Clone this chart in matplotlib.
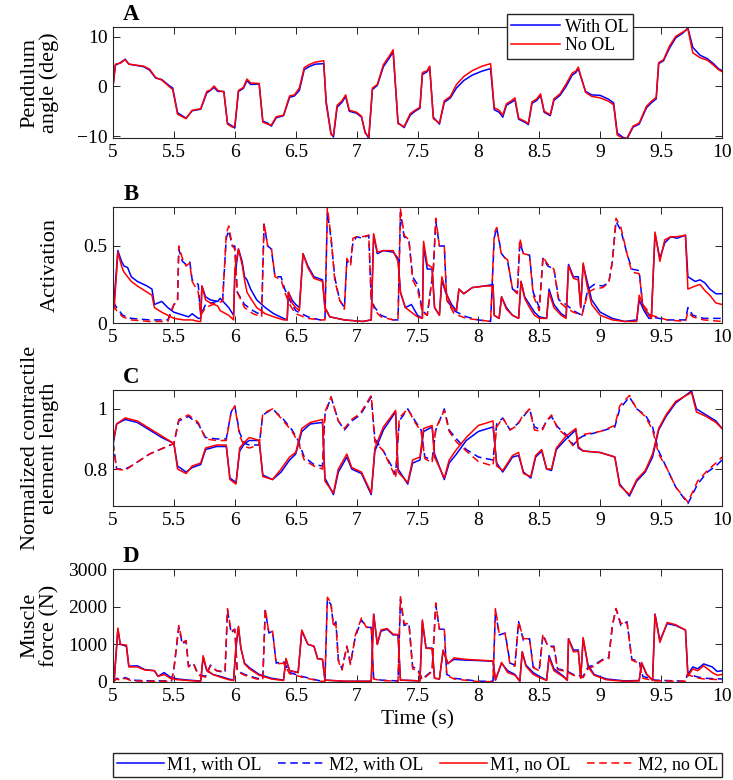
import matplotlib
matplotlib.use("Agg")
import matplotlib.pyplot as plt
import numpy as np

plt.rcParams['font.family'] = ['Liberation Serif', 'DejaVu Serif']
plt.rcParams['mathtext.fontset'] = 'stix'

# ---------------- A: pendulum angle (deg) ----------------
a_t = [5.00, 5.02, 5.06, 5.10, 5.13, 5.25, 5.30, 5.35, 5.40, 5.46, 5.49, 5.53, 5.60, 5.65, 5.72,
       5.77, 5.80, 5.83, 5.86, 5.91, 5.94, 5.98, 6.00, 6.03, 6.07, 6.10, 6.13, 6.20, 6.23, 6.27,
       6.30, 6.34, 6.40, 6.45, 6.49, 6.53, 6.57, 6.61, 6.66, 6.73, 6.75, 6.79, 6.81, 6.84, 6.88,
       6.91, 6.94, 7.00, 7.04, 7.07, 7.10, 7.13, 7.17, 7.22, 7.27, 7.30, 7.34, 7.39, 7.44, 7.48,
       7.52, 7.54, 7.58, 7.60, 7.63, 7.68, 7.72, 7.77, 7.82, 7.88, 7.95, 8.03, 8.10, 8.13, 8.17,
       8.20, 8.23, 8.27, 8.30, 8.33, 8.38, 8.41, 8.44, 8.48, 8.51, 8.54, 8.59, 8.62, 8.67, 8.72,
       8.77, 8.80, 8.82, 8.84, 8.88, 8.93, 9.00, 9.07, 9.11, 9.14, 9.19, 9.22, 9.27, 9.32, 9.38,
       9.42, 9.46, 9.48, 9.52, 9.57, 9.62, 9.68, 9.72, 9.76, 9.82, 9.88, 9.93, 9.97, 10.00]
a_with = [0, 4.3, 4.8, 5.5, 4.5, 4.0, 3.3, 1.7, 1.4, 0.2, -0.3, -5.3, -6.4, -4.9, -4.6,
          -1.3, -0.8, -0.2, -1.0, -1.0, -7.4, -8.0, -8.4, -1.0, -0.4, 1.2, 0.4, 0.5, -7.0, -7.4,
          -8.0, -6.3, -5.9, -2.2, -1.9, -0.8, 3.4, 4.0, 4.5, 4.6, -3.0, -9.5, -10.2, -4.2, -3.2,
          -2.0, -5.0, -5.4, -6.2, -9.2, -10.5, -0.6, 0.2, 4.0, 5.8, 7.0, -7.3, -8.3, -5.8, -5.0,
          -4.4, 2.4, 3.0, 3.9, -6.2, -7.6, -3.2, -2.3, -0.3, 1.2, 2.3, 3.1, 3.6, -4.7, -5.2,
          -6.2, -3.8, -3.2, -2.7, -6.6, -7.2, -7.7, -3.4, -2.8, -1.8, -5.2, -5.9, -2.8, -1.8, 0.0,
          2.3, 2.8, 3.6, 2.0, -1.0, -1.7, -1.8, -2.6, -3.3, -9.4, -10.3, -10.6, -8.2, -7.6, -4.3,
          -3.3, -2.5, 4.6, 5.2, 7.8, 9.8, 10.8, 11.8, 7.9, 6.3, 5.6, 4.6, 3.6, 3.2]
a_no = [0, 4.5, 4.7, 5.4, 4.5, 4.1, 3.5, 1.8, 1.3, 0.0, -0.6, -5.6, -6.5, -4.8, -4.5,
        -1.0, -0.7, 0.1, -0.8, -1.1, -7.6, -8.2, -8.0, -0.8, -0.2, 1.5, 0.7, 0.6, -7.2, -7.6,
        -7.8, -6.1, -5.8, -1.9, -1.7, -0.3, 3.8, 4.4, 4.9, 5.2, -3.5, -9.7, -9.8, -3.8, -2.9,
        -1.7, -4.8, -5.2, -6.0, -9.4, -10.2, -0.3, 0.4, 4.4, 6.2, 7.4, -7.5, -8.1, -5.5, -4.8,
        -4.2, 2.8, 3.2, 4.1, -6.5, -7.4, -2.9, -2.0, 0.4, 2.0, 3.2, 4.1, 4.6, -4.3, -4.8,
        -5.8, -3.5, -2.9, -2.3, -6.4, -7.0, -7.5, -3.1, -2.5, -1.5, -5.0, -5.7, -2.5, -1.5, 0.5,
        2.7, 3.1, 3.9, 2.2, -1.2, -2.0, -2.3, -3.0, -3.7, -9.8, -10.5, -10.4, -8.0, -7.4, -4.0,
        -3.0, -2.2, 4.8, 5.4, 8.2, 10.1, 11.0, 11.6, 6.8, 5.8, 5.3, 4.3, 3.4, 3.0]

# ---------------- B: activation ----------------
b1_t = [5.00, 5.01, 5.04, 5.07, 5.09, 5.12, 5.15, 5.20, 5.28, 5.32, 5.34, 5.40, 5.45, 5.50, 5.58,
        5.62, 5.65, 5.70, 5.72, 5.73, 5.76, 5.80, 5.86, 5.88, 5.95, 5.99, 6.00, 6.03, 6.06, 6.08,
        6.10, 6.13, 6.18, 6.25, 6.32, 6.40, 6.43, 6.44, 6.47, 6.50, 6.53, 6.56, 6.60, 6.65, 6.72,
        6.74, 6.78, 6.90, 7.05, 7.12, 7.14, 7.17, 7.22, 7.30, 7.34, 7.36, 7.40, 7.45, 7.50, 7.54,
        7.55, 7.58, 7.62, 7.64, 7.68, 7.70, 7.73, 7.78, 7.82, 7.84, 7.88, 7.95, 8.05, 8.12, 8.13,
        8.17, 8.19, 8.23, 8.28, 8.33, 8.35, 8.38, 8.42, 8.46, 8.50, 8.56, 8.58, 8.62, 8.68, 8.72,
        8.74, 8.78, 8.82, 8.84, 8.86, 8.89, 8.93, 9.00, 9.10, 9.20, 9.30, 9.32, 9.36, 9.40, 9.42,
        9.45, 9.49, 9.53, 9.58, 9.63, 9.70, 9.72, 9.78, 9.82, 9.86, 9.90, 9.95, 10.00]
b1_with = [0.20, 0.15, 0.47, 0.40, 0.37, 0.36, 0.30, 0.27, 0.24, 0.22, 0.12, 0.14, 0.10, 0.07, 0.05,
           0.04, 0.06, 0.03, 0.03, 0.24, 0.17, 0.15, 0.14, 0.16, 0.10, 0.05, 0.30, 0.48, 0.40, 0.30,
           0.28, 0.22, 0.15, 0.10, 0.06, 0.03, 0.02, 0.20, 0.15, 0.12, 0.10, 0.45, 0.37, 0.30, 0.28,
           0.10, 0.04, 0.02, 0.01, 0.02, 0.57, 0.45, 0.47, 0.46, 0.42, 0.20, 0.10, 0.12, 0.05, 0.03,
           0.50, 0.35, 0.35, 0.10, 0.05, 0.28, 0.20, 0.12, 0.08, 0.22, 0.19, 0.23, 0.24, 0.25, 0.05,
           0.03, 0.17, 0.10, 0.05, 0.03, 0.27, 0.17, 0.12, 0.07, 0.04, 0.03, 0.22, 0.12, 0.06, 0.04,
           0.38, 0.30, 0.30, 0.10, 0.38, 0.28, 0.15, 0.07, 0.03, 0.01, 0.02, 0.15, 0.08, 0.03, 0.03,
           0.58, 0.42, 0.52, 0.56, 0.55, 0.57, 0.30, 0.27, 0.28, 0.26, 0.22, 0.19, 0.19]
b1_no = [0.07, 0.10, 0.46, 0.37, 0.33, 0.30, 0.27, 0.24, 0.20, 0.18, 0.10, 0.07, 0.05, 0.03, 0.02,
         0.02, 0.02, 0.01, 0.01, 0.24, 0.15, 0.13, 0.11, 0.08, 0.05, 0.02, 0.35, 0.48, 0.38, 0.28,
         0.20, 0.16, 0.10, 0.06, 0.04, 0.02, 0.02, 0.20, 0.13, 0.10, 0.08, 0.45, 0.36, 0.29, 0.27,
         0.10, 0.04, 0.02, 0.01, 0.02, 0.58, 0.46, 0.47, 0.47, 0.40, 0.20, 0.10, 0.07, 0.04, 0.03,
         0.53, 0.38, 0.36, 0.10, 0.05, 0.30, 0.21, 0.10, 0.08, 0.22, 0.19, 0.23, 0.24, 0.24, 0.05,
         0.03, 0.17, 0.09, 0.05, 0.03, 0.27, 0.16, 0.10, 0.05, 0.03, 0.03, 0.20, 0.10, 0.05, 0.03,
         0.37, 0.29, 0.28, 0.10, 0.39, 0.25, 0.12, 0.05, 0.02, 0.01, 0.01, 0.18, 0.10, 0.05, 0.03,
         0.59, 0.40, 0.54, 0.56, 0.56, 0.57, 0.22, 0.24, 0.25, 0.21, 0.18, 0.13, 0.12]

b2_t = [5.00, 5.03, 5.08, 5.15, 5.30, 5.45, 5.50, 5.53, 5.54, 5.57, 5.60, 5.63, 5.65, 5.70, 5.72,
        5.76, 5.85, 5.90, 5.93, 5.95, 5.98, 6.00, 6.02, 6.08, 6.15, 6.22, 6.24, 6.27, 6.30, 6.33,
        6.38, 6.41, 6.45, 6.50, 6.60, 6.70, 6.74, 6.76, 6.79, 6.82, 6.86, 6.90, 6.92, 6.95, 6.97,
        7.00, 7.05, 7.10, 7.12, 7.15, 7.20, 7.30, 7.34, 7.36, 7.39, 7.43, 7.46, 7.50, 7.54, 7.58,
        7.63, 7.65, 7.68, 7.72, 7.74, 7.80, 7.90, 8.00, 8.10, 8.13, 8.15, 8.19, 8.24, 8.28, 8.32,
        8.34, 8.37, 8.42, 8.45, 8.50, 8.53, 8.57, 8.62, 8.66, 8.72, 8.78, 8.85, 8.90, 8.95, 9.02,
        9.07, 9.10, 9.13, 9.17, 9.22, 9.26, 9.32, 9.35, 9.42, 9.55, 9.70, 9.72, 9.76, 9.85, 10.00]
b2_with = [0.14, 0.10, 0.05, 0.03, 0.02, 0.02, 0.12, 0.14, 0.48, 0.40, 0.38, 0.40, 0.28, 0.25, 0.05,
           0.12, 0.14, 0.15, 0.55, 0.60, 0.50, 0.50, 0.20, 0.12, 0.08, 0.05, 0.64, 0.50, 0.48, 0.30,
           0.30, 0.22, 0.15, 0.08, 0.04, 0.02, 0.02, 0.72, 0.55, 0.30, 0.15, 0.10, 0.40, 0.38, 0.52,
           0.56, 0.55, 0.57, 0.15, 0.10, 0.05, 0.02, 0.02, 0.72, 0.56, 0.53, 0.30, 0.25, 0.08, 0.05,
           0.35, 0.66, 0.50, 0.50, 0.15, 0.08, 0.04, 0.02, 0.01, 0.55, 0.62, 0.45, 0.40, 0.22, 0.20,
           0.52, 0.45, 0.44, 0.20, 0.10, 0.42, 0.37, 0.35, 0.15, 0.12, 0.08, 0.05, 0.22, 0.25, 0.24,
           0.26, 0.40, 0.66, 0.60, 0.45, 0.35, 0.34, 0.10, 0.04, 0.02, 0.02, 0.10, 0.05, 0.03, 0.03]
b2_no = [0.12, 0.08, 0.04, 0.02, 0.01, 0.01, 0.12, 0.14, 0.50, 0.42, 0.37, 0.39, 0.27, 0.20, 0.05,
         0.10, 0.13, 0.14, 0.58, 0.63, 0.50, 0.48, 0.20, 0.10, 0.06, 0.04, 0.65, 0.50, 0.49, 0.30,
         0.28, 0.20, 0.12, 0.06, 0.03, 0.02, 0.02, 0.75, 0.56, 0.28, 0.15, 0.09, 0.42, 0.37, 0.55,
         0.56, 0.56, 0.57, 0.15, 0.08, 0.04, 0.02, 0.02, 0.74, 0.57, 0.54, 0.28, 0.22, 0.07, 0.05,
         0.35, 0.68, 0.50, 0.50, 0.15, 0.06, 0.03, 0.02, 0.01, 0.58, 0.62, 0.44, 0.41, 0.22, 0.19,
         0.55, 0.45, 0.44, 0.18, 0.08, 0.43, 0.38, 0.35, 0.14, 0.10, 0.07, 0.05, 0.20, 0.22, 0.23,
         0.26, 0.40, 0.68, 0.62, 0.45, 0.33, 0.32, 0.12, 0.05, 0.02, 0.01, 0.07, 0.04, 0.02, 0.01]

# ---------------- C: normalized CE length ----------------
c1_t = [5.00, 5.03, 5.10, 5.20, 5.30, 5.40, 5.50, 5.53, 5.60, 5.65, 5.72, 5.76, 5.85, 5.93, 5.96,
        6.01, 6.04, 6.08, 6.12, 6.20, 6.23, 6.31, 6.38, 6.45, 6.50, 6.55, 6.62, 6.72, 6.74, 6.81,
        6.85, 6.92, 6.96, 7.04, 7.12, 7.15, 7.22, 7.32, 7.34, 7.42, 7.46, 7.52, 7.55, 7.62, 7.64,
        7.72, 7.76, 7.82, 7.90, 8.00, 8.12, 8.15, 8.20, 8.28, 8.33, 8.37, 8.43, 8.47, 8.52, 8.56,
        8.60, 8.64, 8.72, 8.80, 8.82, 8.86, 9.00, 9.12, 9.16, 9.24, 9.30, 9.37, 9.43, 9.48, 9.54,
        9.62, 9.75, 9.79, 9.87, 9.95, 10.00]
c1_with = [0.88, 0.95, 0.965, 0.955, 0.93, 0.905, 0.885, 0.81, 0.79, 0.805, 0.815, 0.865, 0.875, 0.875, 0.77,
           0.755, 0.86, 0.885, 0.895, 0.895, 0.78, 0.765, 0.79, 0.83, 0.85, 0.925, 0.95, 0.955, 0.77, 0.715,
           0.79, 0.84, 0.80, 0.785, 0.715, 0.86, 0.93, 0.99, 0.80, 0.75, 0.82, 0.83, 0.925, 0.94, 0.85,
           0.765, 0.82, 0.85, 0.895, 0.925, 0.94, 0.82, 0.79, 0.84, 0.845, 0.79, 0.77, 0.84, 0.86, 0.80,
           0.795, 0.865, 0.90, 0.93, 0.87, 0.86, 0.855, 0.84, 0.75, 0.71, 0.76, 0.79, 0.84, 0.93, 0.975,
           1.02, 1.06, 1.00, 0.98, 0.96, 0.935]
c1_no = [0.89, 0.95, 0.97, 0.96, 0.935, 0.91, 0.885, 0.80, 0.785, 0.81, 0.82, 0.87, 0.88, 0.88, 0.765,
         0.75, 0.87, 0.89, 0.905, 0.895, 0.775, 0.765, 0.80, 0.84, 0.855, 0.935, 0.955, 0.965, 0.76, 0.72,
         0.80, 0.85, 0.805, 0.79, 0.72, 0.87, 0.94, 0.995, 0.79, 0.755, 0.83, 0.84, 0.935, 0.945, 0.84,
         0.77, 0.83, 0.865, 0.905, 0.945, 0.96, 0.81, 0.795, 0.845, 0.855, 0.785, 0.775, 0.845, 0.865, 0.80,
         0.80, 0.87, 0.91, 0.935, 0.875, 0.86, 0.855, 0.84, 0.745, 0.715, 0.765, 0.795, 0.85, 0.935, 0.98,
         1.025, 1.055, 0.99, 0.975, 0.955, 0.935]

c2_t = [5.00, 5.03, 5.10, 5.15, 5.30, 5.50, 5.54, 5.62, 5.70, 5.76, 5.85, 5.93, 5.97, 6.00, 6.04,
        6.08, 6.12, 6.20, 6.23, 6.31, 6.40, 6.47, 6.52, 6.57, 6.65, 6.72, 6.74, 6.79, 6.85, 6.90,
        6.96, 7.03, 7.12, 7.15, 7.22, 7.30, 7.32, 7.35, 7.42, 7.48, 7.53, 7.56, 7.62, 7.65, 7.72,
        7.76, 7.82, 7.90, 8.00, 8.12, 8.15, 8.20, 8.26, 8.32, 8.36, 8.42, 8.46, 8.52, 8.56, 8.60,
        8.65, 8.72, 8.78, 8.82, 8.86, 9.00, 9.12, 9.16, 9.24, 9.30, 9.37, 9.43, 9.48, 9.55, 9.62,
        9.72, 9.80, 9.88, 9.95, 10.00]
c2_with = [0.89, 0.80, 0.80, 0.81, 0.85, 0.885, 0.96, 0.975, 0.95, 0.905, 0.90, 0.90, 0.99, 1.01, 0.92,
           0.885, 0.88, 0.88, 0.98, 1.00, 0.965, 0.93, 0.895, 0.84, 0.815, 0.81, 0.98, 1.04, 0.96, 0.93,
           0.96, 0.98, 1.04, 0.90, 0.86, 0.80, 0.78, 0.96, 1.00, 0.96, 0.93, 0.84, 0.83, 0.93, 1.00,
           0.93, 0.90, 0.865, 0.84, 0.83, 0.95, 0.97, 0.93, 0.95, 0.97, 1.00, 0.94, 0.93, 0.96, 0.975,
           0.94, 0.915, 0.88, 0.90, 0.91, 0.925, 0.94, 1.00, 1.04, 1.00, 0.98, 0.94, 0.86, 0.80, 0.74,
           0.685, 0.75, 0.79, 0.81, 0.83]
c2_no = [0.885, 0.80, 0.795, 0.81, 0.85, 0.885, 0.965, 0.98, 0.955, 0.90, 0.895, 0.895, 0.99, 1.01, 0.91,
         0.875, 0.87, 0.88, 0.985, 1.00, 0.96, 0.925, 0.89, 0.83, 0.81, 0.80, 0.99, 1.04, 0.96, 0.935,
         0.965, 0.985, 1.045, 0.89, 0.86, 0.79, 0.77, 0.97, 1.00, 0.955, 0.925, 0.835, 0.82, 0.935, 0.995,
         0.925, 0.89, 0.86, 0.825, 0.81, 0.94, 0.97, 0.93, 0.945, 0.975, 1.00, 0.93, 0.925, 0.96, 0.98,
         0.935, 0.91, 0.875, 0.90, 0.915, 0.925, 0.945, 1.01, 1.045, 1.00, 0.975, 0.93, 0.85, 0.80, 0.74,
         0.69, 0.76, 0.795, 0.82, 0.84]

# ---------------- D: muscle force (N) ----------------
d1_t = [5.00, 5.01, 5.04, 5.06, 5.11, 5.13, 5.20, 5.26, 5.34, 5.37, 5.42, 5.47, 5.53, 5.62, 5.70,
        5.72, 5.74, 5.77, 5.82, 5.88, 5.95, 5.99, 6.01, 6.03, 6.05, 6.08, 6.12, 6.20, 6.30, 6.40,
        6.42, 6.45, 6.52, 6.55, 6.60, 6.65, 6.68, 6.72, 6.74, 6.90, 7.12, 7.14, 7.17, 7.20, 7.25,
        7.30, 7.34, 7.36, 7.52, 7.54, 7.57, 7.62, 7.64, 7.68, 7.71, 7.75, 7.80, 7.90, 8.00, 8.12,
        8.14, 8.19, 8.24, 8.30, 8.34, 8.36, 8.39, 8.45, 8.50, 8.56, 8.58, 8.62, 8.70, 8.73, 8.74,
        8.78, 8.82, 8.84, 8.86, 8.90, 8.95, 9.05, 9.20, 9.32, 9.34, 9.38, 9.43, 9.45, 9.49, 9.55,
        9.62, 9.70, 9.72, 9.76, 9.80, 9.85, 9.92, 9.96, 10.00]
d1_with = [600, 50, 1400, 1000, 950, 420, 430, 330, 300, 150, 250, 130, 80, 50, 30,
           30, 650, 300, 200, 150, 80, 50, 900, 1450, 900, 500, 380, 200, 100, 50,
           600, 300, 250, 1350, 1000, 950, 620, 600, 50, 20, 20, 1800, 1000, 1350, 1400,
           1250, 1250, 50, 30, 1600, 900, 900, 100, 80, 820, 500, 600, 580, 570, 550,
           50, 500, 300, 200, 20, 800, 450, 250, 150, 50, 700, 350, 150, 50, 1150,
           850, 850, 100, 1150, 450, 200, 80, 30, 40, 500, 200, 50, 1800, 1100, 1550,
           1500, 1380, 200, 400, 350, 480, 400, 280, 300]
d1_no = [500, 50, 1430, 1000, 980, 400, 400, 320, 300, 150, 200, 100, 60, 40, 20,
         20, 700, 320, 200, 130, 60, 40, 1000, 1480, 900, 480, 350, 180, 80, 40,
         630, 300, 250, 1380, 1000, 950, 620, 600, 50, 20, 20, 1800, 1000, 1380, 1420,
         1270, 1260, 50, 30, 1650, 900, 880, 100, 80, 850, 480, 640, 600, 580, 560,
         50, 520, 250, 180, 20, 800, 420, 200, 120, 40, 650, 300, 130, 40, 1150,
         800, 820, 100, 1180, 400, 180, 60, 20, 30, 520, 220, 40, 1800, 1050, 1580,
         1520, 1380, 150, 350, 300, 430, 250, 180, 200]

d2_t = [5.00, 5.03, 5.06, 5.10, 5.15, 5.30, 5.48, 5.50, 5.54, 5.57, 5.60, 5.62, 5.66, 5.70, 5.76,
        5.80, 5.85, 5.92, 5.94, 5.97, 6.00, 6.02, 6.08, 6.18, 6.23, 6.25, 6.28, 6.31, 6.34, 6.40,
        6.45, 6.55, 6.70, 6.74, 6.76, 6.79, 6.81, 6.83, 6.85, 6.88, 6.92, 6.95, 6.99, 7.04, 7.08,
        7.12, 7.14, 7.20, 7.34, 7.36, 7.39, 7.43, 7.46, 7.50, 7.54, 7.62, 7.65, 7.68, 7.72, 7.74,
        7.80, 8.00, 8.12, 8.14, 8.17, 8.22, 8.26, 8.30, 8.33, 8.37, 8.42, 8.45, 8.50, 8.53, 8.57,
        8.62, 8.65, 8.72, 8.78, 8.86, 8.90, 8.95, 9.02, 9.07, 9.10, 9.13, 9.17, 9.22, 9.26, 9.32,
        9.35, 9.45, 9.70, 9.72, 9.78, 9.85, 10.00]
d2_with = [0, 100, 50, 120, 50, 30, 30, 350, 1450, 1000, 1100, 420, 500, 200, 150,
           450, 300, 250, 1900, 1300, 1400, 300, 200, 100, 80, 1900, 1300, 1350, 500, 550,
           250, 150, 30, 30, 2200, 2050, 1500, 1600, 600, 350, 950, 500, 1200, 1650, 1450,
           1450, 100, 50, 30, 2200, 1500, 1550, 400, 350, 80, 300, 2050, 1400, 1400, 200,
           100, 20, 20, 1900, 1250, 1300, 500, 450, 1600, 1100, 1150, 400, 350, 1250, 950,
           950, 350, 300, 200, 150, 400, 450, 600, 650, 1500, 1950, 1500, 1600, 600, 550,
           150, 50, 20, 250, 150, 100, 80]
d2_no = [0, 80, 50, 100, 30, 20, 20, 330, 1500, 1050, 1100, 400, 480, 180, 130,
         430, 300, 280, 1950, 1350, 1400, 280, 180, 80, 60, 1950, 1300, 1350, 480, 500,
         220, 130, 20, 20, 2250, 2100, 1450, 1550, 550, 320, 950, 450, 1250, 1700, 1450,
         1480, 80, 40, 20, 2260, 1550, 1550, 350, 300, 60, 280, 2100, 1400, 1420, 180,
         80, 10, 10, 1950, 1300, 1280, 450, 420, 1600, 1150, 1150, 380, 300, 1270, 950,
         920, 330, 280, 180, 120, 350, 420, 580, 620, 1500, 1950, 1550, 1600, 580, 500,
         100, 30, 20, 200, 120, 80, 60]

blue = (0, 0, 1)
red = (1, 0, 0)
lw = 1.1

fig = plt.figure(figsize=(7.33, 7.8), dpi=100)
L, W = 113 / 733, 609 / 733
ax_a = fig.add_axes([L, 1 - 138 / 780, W, 111 / 780])
ax_b = fig.add_axes([L, 1 - 323 / 780, W, 116 / 780])
ax_c = fig.add_axes([L, 1 - 506 / 780, W, 116 / 780])
ax_d = fig.add_axes([L, 1 - 682 / 780, W, 113 / 780])

ha1, = ax_a.plot(a_t, a_with, color=blue, lw=lw)
ha2, = ax_a.plot(a_t, a_no, color=red, lw=lw)
ax_a.set_ylim(-10.4, 12)
ax_a.set_yticks([-10, 0, 10])
ax_a.set_ylabel('Pendulum\nangle (deg)', fontsize=16, linespacing=1.05)
ax_a.legend([ha1, ha2], ['With OL', 'No OL'], loc='center', bbox_to_anchor=(0.75, 0.914),
            fontsize=13, frameon=True, fancybox=False, edgecolor='0.15', framealpha=1,
            handlelength=2.7, handletextpad=0.25, borderpad=0.25, labelspacing=0.1)

for ax, t1, w1, n1, t2, w2, n2 in [(ax_b, b1_t, b1_with, b1_no, b2_t, b2_with, b2_no),
                                   (ax_c, c1_t, c1_with, c1_no, c2_t, c2_with, c2_no),
                                   (ax_d, d1_t, d1_with, d1_no, d2_t, d2_with, d2_no)]:
    l1, = ax.plot(t1, w1, color=blue, lw=lw)
    l2, = ax.plot(t2, w2, color=blue, lw=lw, ls='--', dashes=(5, 3))
    l3, = ax.plot(t1, n1, color=red, lw=lw)
    l4, = ax.plot(t2, n2, color=red, lw=lw, ls='--', dashes=(5, 3))

ax_b.set_ylim(0, 0.753)
ax_b.set_yticks([0, 0.5])
ax_b.set_yticklabels(['0', '0.5'])
ax_b.set_ylabel('Activation', fontsize=16)

ax_c.set_ylim(0.677, 1.063)
ax_c.set_yticks([0.8, 1.0])
ax_c.set_yticklabels(['0.8', '1'])
ax_c.set_ylabel('Normalized contractile\nelement length', fontsize=16, linespacing=1.05)

ax_d.set_ylim(0, 3000)
ax_d.set_yticks([0, 1000, 2000, 3000])
ax_d.set_ylabel('Muscle\nforce (N)', fontsize=16, linespacing=1.05)
ax_d.set_xlabel('Time (s)', fontsize=15.5, labelpad=4)

xt = [5, 5.5, 6, 6.5, 7, 7.5, 8, 8.5, 9, 9.5, 10]
for ax, letter in zip([ax_a, ax_b, ax_c, ax_d], 'ABCD'):
    ax.set_xlim(5, 10)
    ax.set_xticks(xt)
    ax.set_xticklabels(['5', '5.5', '6', '6.5', '7', '7.5', '8', '8.5', '9', '9.5', '10'])
    ax.tick_params(direction='in', top=True, right=True, labelsize=14, length=5,
                   width=0.7, color='0.15', pad=4)
    for s in ax.spines.values():
        s.set_linewidth(0.8)
        s.set_color('0.15')
    ax.yaxis.set_label_coords(-0.088, 0.5)
    ax.annotate(letter, xy=(0.03, 1.0), xycoords='axes fraction', xytext=(0, 9),
                textcoords='offset points', ha='center', va='center',
                fontsize=16.5, fontweight='bold')

fig.legend([l1, l2, l3, l4], ['M1, with OL', 'M2, with OL', 'M1, no OL', 'M2, no OL'],
           loc='lower left', bbox_to_anchor=(L, 3 / 780, W, 26 / 780), mode='expand',
           ncol=4, fontsize=13, frameon=True, fancybox=False, edgecolor='0.15',
           framealpha=1, handlelength=2.6, handletextpad=0.2, borderaxespad=0,
           borderpad=0.2, columnspacing=0.6)

fig.savefig('out.png', dpi=100)
